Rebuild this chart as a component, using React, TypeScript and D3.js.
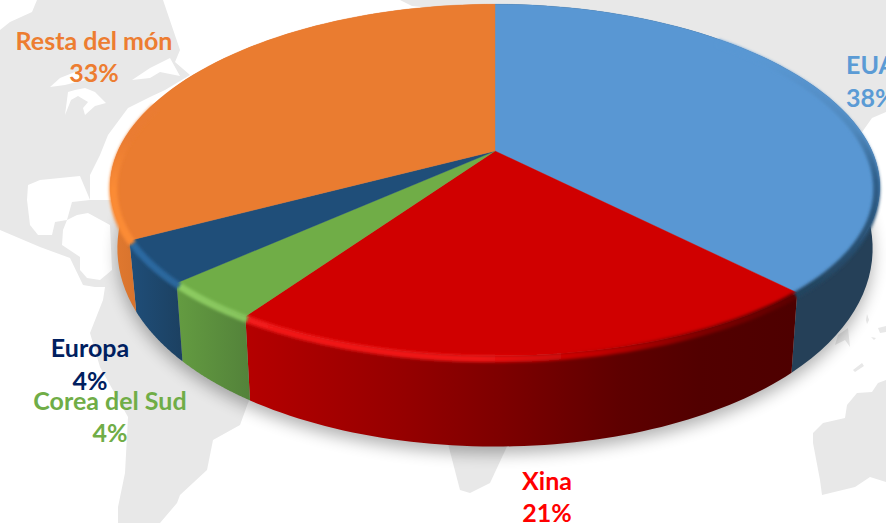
import { curveLinearClosed, line, pie, range, scaleLinear } from "d3";

const categories = ["EUA", "Xina", "Corea del Sud", "Europa", "Resta del món"];
const shares = [38, 21.3, 3.7, 4, 33];
const shareLabels = ["38%", "21%", "4%", "4%", "33%"];

const width = 886;
const height = 523;
const font = "Lato, Carlito, sans-serif";

const topColors = ["#5997d3", "#d00000", "#70ad47", "#1f4e79", "#ea7c30"];
const textColors = ["#5b9bd5", "#ff0000", "#70ad47", "#002060", "#ed7d31"];

// [position, colour] along the front of the pie
const wallStops = [
  [[136, "#254058"], [880, "#254058"]],
  [[250, "#b40000"], [400, "#960000"], [500, "#7e0000"], [620, "#5e0000"], [700, "#520000"], [795, "#4e0000"]],
  [[176, "#649c41"], [250, "#53823a"]],
  [[130, "#1f4e79"], [180, "#1c4162"]],
  [[110, "#e27a30"], [140, "#d6722d"]],
];
// blue and orange run along y, the others along x
const rimAxis = ["y", "x", "x", "x", "y"];
const rimStops = [
  [[60, "#5997d3"], [130, "#4f88bd"], [180, "#2f5f8a"], [290, "#23445f"]],
  [[246, "#f21a1a"], [480, "#ee1414"], [600, "#c00000"], [700, "#800000"], [795, "#5c0000"]],
  [[176, "#8ecd62"], [250, "#86c45c"]],
  [[130, "#2b6aa3"], [180, "#2a669b"]],
  [[140, "#ea7c30"], [190, "#fb8b36"], [240, "#fb8b36"]],
];

// grey world map behind the pie
const landShapes = [
  [[37, 0], [133, 0], [150, 0], [163, 0], [180, 50], [175, 62], [190, 75], [165, 90], [150, 97], [128, 108], [108, 135], [100, 155], [90, 175], [90, 200], [300, 200], [300, 300], [248, 403], [240, 425], [213, 440], [207, 470], [180, 495], [177, 503], [160, 523], [118, 523], [118, 507], [125, 473], [128, 417], [100, 367], [90, 333], [103, 300], [105, 287], [95, 287], [83, 285], [70, 258], [40, 247], [0, 230], [0, 30], [10, 22], [32, 12]],
  [[400, 0], [886, 0], [886, 112], [872, 118], [860, 135], [500, 135], [430, 8], [412, 6]],
  [[447, 440], [510, 440], [490, 483], [470, 493], [460, 490]],
  [[813, 433], [823, 423], [845, 418], [847, 405], [857, 393], [872, 392], [878, 383], [886, 380], [886, 482], [870, 477], [855, 487], [822, 495], [820, 480], [813, 443]],
  [[835, 345], [838, 335], [848, 328], [850, 347], [845, 340]],
  [[853, 370], [862, 363], [864, 366], [855, 372]],
  [[867, 314], [869, 320], [867, 324], [866, 320]],
  [[878, 328], [886, 326], [886, 332], [880, 333]],
  [[871, 337], [876, 338], [874, 340]],
];
const waterShapes = [
  [[28, 185], [40, 180], [60, 178], [80, 176], [88, 195], [90, 200], [72, 202], [67, 220], [55, 222], [52, 235], [38, 235], [30, 225], [27, 200]],
  [[67, 220], [77, 215], [88, 213], [110, 225], [112, 270], [100, 280], [87, 278], [80, 270], [80, 257], [62, 245], [63, 230]],
  [[50, 87], [60, 78], [75, 72], [85, 80], [65, 85]],
  [[65, 115], [68, 92], [75, 90], [85, 88], [95, 92], [106, 103], [95, 106], [85, 115], [83, 108], [88, 102], [78, 96], [71, 100]],
  [[132, 80], [150, 68], [170, 58], [180, 76], [160, 72], [150, 78]],
];

const labelRows = [
  { x: 846, y: 74, anchor: "start" },
  { x: 547, y: 490, anchor: "middle" },
  { x: 110, y: 410, anchor: "middle" },
  { x: 90, y: 357, anchor: "middle" },
  { x: 94, y: 50, anchor: "middle" },
];
const labelStep = [33, 32, 32, 33, 32];

// Excel style 3D pie: circle seen in perspective
const perspX = 0.2;
const perspY = 0.165;
const xTop = scaleLinear().domain([0, 1]).range([495, 872]);
const yTop = scaleLinear().domain([0, 1]).range([151, 322]);
const xRim = scaleLinear().domain([0, 1]).range([495, 869]);
const yRim = scaleLinear().domain([0, 1]).range([154, 325]);
const xBottom = scaleLinear().domain([0, 1]).range([495, 865]);
const yBottom = scaleLinear().domain([0, 1]).range([207, 407]);

const ring = (xs: any, ys: any) => (a: number): [number, number] => {
  const u = Math.sin(a);
  const v = -Math.cos(a);
  return [xs(u / (1 - perspX * v)), ys(v / (1 - perspY * v))];
};
const topPoint = ring(xTop, yTop);
const rimPoint = ring(xRim, yRim);
const bottomPoint = ring(xBottom, yBottom);
const sample = (a0: number, a1: number) =>
  range(0, 61).map((i) => a0 + ((a1 - a0) * i) / 60);

const toPath = line();
const closed = line().curve(curveLinearClosed);

const slices = pie<number>().sort(null)(shares);

const bottomOutline = range(0, 181).map((i) => bottomPoint((i * Math.PI) / 90));

const gradient = (id: string, stops: any[], axis: string) => {
  const lo = stops[0][0];
  const hi = stops[stops.length - 1][0];
  const ends = axis === "x" ? { x1: lo, x2: hi, y1: 0, y2: 0 } : { x1: 0, x2: 0, y1: lo, y2: hi };
  return (
    <linearGradient key={id} id={id} gradientUnits="userSpaceOnUse" {...ends}>
      {stops.map(([p, c], j) => (
        <stop key={j} offset={(p - lo) / (hi - lo)} stopColor={c} />
      ))}
    </linearGradient>
  );
};

const App = () => {
  return (
    <svg
      width={width}
      height={height}
      style={{ position: "absolute", left: 0, top: 0, background: "#fff" }}
    >
      <defs>
        <filter id="shadow" x="-20%" y="-20%" width="140%" height="140%">
          <feGaussianBlur stdDeviation="8" />
        </filter>
        <filter id="soft" filterUnits="userSpaceOnUse" x="0" y="0" width={width} height={height}>
          <feGaussianBlur stdDeviation="1.4" />
        </filter>
        {wallStops.map((w, i) => gradient(`wall${i}`, w, "x"))}
        {rimStops.map((r, i) => gradient(`rim${i}`, r, rimAxis[i]))}
      </defs>

      {landShapes.map((d, i) => (
        <path key={i} d={closed(d as any) as string} fill="#e8e8e8" />
      ))}
      {waterShapes.map((d, i) => (
        <path key={i} d={closed(d as any) as string} fill="#fff" />
      ))}

      <path
        d={closed(bottomOutline) as string}
        fill="#000"
        opacity={0.3}
        transform="translate(0,7)"
        filter="url(#shadow)"
      />

      {slices.map((s, i) => {
        const pts = sample(s.startAngle, s.endAngle);
        return (
          <path
            key={i}
            d={closed([...pts.map(topPoint), ...pts.slice().reverse().map(bottomPoint)]) as string}
            fill={`url(#wall${i})`}
          />
        );
      })}

      {slices.map((s, i) => {
        const pts = sample(s.startAngle, s.endAngle);
        return (
          <path
            key={i}
            d={closed([[495, 151], ...pts.map(topPoint)]) as string}
            fill={topColors[i]}
            stroke={topColors[i]}
            strokeWidth={0.4}
          />
        );
      })}

      {/* bevel along the rim of every slice */}
      {slices.map((s, i) => {
        const a0 = i === 0 ? 0.75 : s.startAngle;
        const a1 = i === 4 ? 5.0 : s.endAngle;
        return (
          <path
            key={i}
            d={toPath(sample(a0, a1).map(rimPoint)) as string}
            fill="none"
            stroke={`url(#rim${i})`}
            strokeWidth={i === 4 ? 8 : 7}
            filter="url(#soft)"
          />
        );
      })}

      {categories.map((c, i) => (
        <g
          key={c}
          fontFamily={font}
          fontWeight={700}
          fontSize={25}
          fill={textColors[i]}
          textAnchor={labelRows[i].anchor}
        >
          <text x={labelRows[i].x} y={labelRows[i].y}>{c}</text>
          <text x={labelRows[i].x} y={labelRows[i].y + labelStep[i]}>{shareLabels[i]}</text>
        </g>
      ))}
    </svg>
  );
};

export default App;
